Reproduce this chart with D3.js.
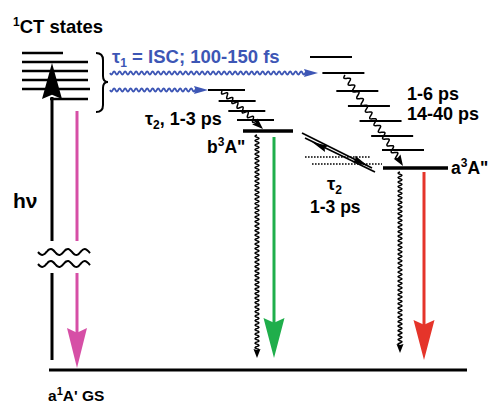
<!DOCTYPE html>
<html>
<head>
<meta charset="utf-8">
<script src="https://cdn.jsdelivr.net/npm/d3@7"></script>
<style>
  body { margin: 0; background: #fff; }
  text { font-family: "Liberation Sans", Arial, sans-serif; font-weight: bold; }
</style>
</head>
<body>
<svg id="chart" width="490" height="403"></svg>
<script>
// energies are heights above the ground state, in picture units
var groundEnergy = 0;
var ctEnergies = [317, 308, 299, 290, 281, 271];
var ctStarts = [22, 22, 22, 22, 22, 50];
var ctEnds = [63, 88, 88, 88, 90, 88];
var bLadder = [280, 269, 259, 250];
var bMain = 239;
var aLadder = [313, 297, 279, 264, 249, 234, 220];
var aMain = 202;
var crossingLevels = [213, 206];

var labels = {
    ct: "CT states",
    isc: " = ISC; 100-150 fs",
    tau2b: ", 1-3 ps",
    aTimes: ["1-6 ps", "14-40 ps"],
    tau2x: "1-3 ps",
    gs: "A' GS"
};

var svg = d3.select("#chart");
var y = d3.scaleLinear().domain([0, 317]).range([370, 53]);
// ladders slant: left edge follows the energy
var bX = d3.scaleLinear().domain([280, 250]).range([208, 237]);
var aX = d3.scaleLinear().domain([313, 220]).range([310, 382]);

var blue = "#3d56b5", pink = "#d64fa6", green = "#1fae4b", red = "#e5342a";

function wavePath(x0, y0, x1, y1, amp, wl) {
    let dx = x1 - x0, dy = y1 - y0;
    let len = Math.sqrt(dx * dx + dy * dy);
    let ux = dx / len, uy = dy / len;
    let pts = [];
    let n = Math.round(len / wl * 8);
    for (let i = 0; i <= n; i++) {
        let t = i / n * len;
        let o = amp * Math.sin(t / wl * 2 * Math.PI);
        pts.push([x0 + ux * t - uy * o, y0 + uy * t + ux * o]);
    }
    return d3.line().curve(d3.curveCatmullRom)(pts);
}

function arrowHead(tx, ty, fx, fy, len, hw, color) {
    let dx = tx - fx, dy = ty - fy;
    let d = Math.sqrt(dx * dx + dy * dy);
    let ux = dx / d, uy = dy / d;
    let bx = tx - ux * len, by = ty - uy * len;
    let notch = len * 0.12;
    svg.append("path")
        .attr("d", "M" + tx + "," + ty +
            "L" + (bx - uy * hw) + "," + (by + ux * hw) +
            "L" + (bx + ux * notch) + "," + (by + uy * notch) +
            "L" + (bx + uy * hw) + "," + (by - ux * hw) + "Z")
        .attr("fill", color);
}

function level(x0, x1, e, w) {
    svg.append("line")
        .attr("x1", x0).attr("x2", x1)
        .attr("y1", y(e)).attr("y2", y(e))
        .attr("stroke", "#000").attr("stroke-width", w);
}

// ground state
level(49, 467, groundEnergy, 3.2);

// CT manifold
ctEnergies.forEach(function (e, i) { level(ctStarts[i], ctEnds[i], e, 2.4); });

// b3A'' ladder
bLadder.forEach(function (e) { level(bX(e), bX(e) + 37, e, 2); });
level(243, 293, bMain, 3.6);

// a3A'' ladder
aLadder.forEach(function (e) { level(aX(e), aX(e) + 42, e, 2); });
level(383, 448, aMain, 3.6);

// hv excitation with break
svg.append("line").attr("x1", 52).attr("x2", 52).attr("y1", y(ctEnergies[5]) - 2).attr("y2", 241)
    .attr("stroke", "#000").attr("stroke-width", 3);
svg.append("line").attr("x1", 52).attr("x2", 52).attr("y1", 273).attr("y2", 360)
    .attr("stroke", "#000").attr("stroke-width", 3);
arrowHead(52, 63, 52, 100, 36, 10, "#000");

// pink emission from CT
svg.append("line").attr("x1", 77).attr("x2", 77).attr("y1", 111).attr("y2", 241)
    .attr("stroke", pink).attr("stroke-width", 3);
svg.append("line").attr("x1", 77).attr("x2", 77).attr("y1", 273).attr("y2", 335)
    .attr("stroke", pink).attr("stroke-width", 3);
arrowHead(77, y(groundEnergy) - 2, 77, 300, 40, 10, pink);

// axis break squiggles
[252, 264].forEach(function (yy) {
    svg.append("path").attr("d", wavePath(38, yy, 90, yy, 3, 17))
        .attr("fill", "none").attr("stroke", "#000").attr("stroke-width", 2);
});

// brace
svg.append("path")
    .attr("d", "M96,53 Q103,53 103,60 L103,76 Q103,82 108,82 Q103,82 103,88 L103,105 Q103,112 96,112")
    .attr("fill", "none").attr("stroke", "#000").attr("stroke-width", 2);

// ISC wavy arrows
svg.append("path").attr("d", wavePath(110, 73, 306, 73, 1.6, 5.5))
    .attr("fill", "none").attr("stroke", blue).attr("stroke-width", 1.8);
arrowHead(318, 73, 300, 73, 14, 4, blue);
svg.append("path").attr("d", wavePath(110, 90, 196, 90, 1.6, 5.5))
    .attr("fill", "none").attr("stroke", blue).attr("stroke-width", 1.8);
arrowHead(208, 90, 190, 90, 14, 4, blue);

// vibrational relaxation down the ladders
svg.append("path").attr("d", wavePath(222, 91, 257, 123, 2.4, 7))
    .attr("fill", "none").attr("stroke", "#000").attr("stroke-width", 1.5);
arrowHead(263, 129, 222, 91, 11, 4, "#000");
svg.append("path").attr("d", wavePath(345, 75, 398, 158, 2.6, 8))
    .attr("fill", "none").attr("stroke", "#000").attr("stroke-width", 1.5);
arrowHead(403, 166, 345, 75, 11, 4, "#000");

// nonradiative decay to ground
svg.append("path").attr("d", wavePath(257, 135, 257, 350, 2, 4.5))
    .attr("fill", "none").attr("stroke", "#000").attr("stroke-width", 1.4);
arrowHead(257, 358, 257, 340, 9, 3.5, "#000");
svg.append("path").attr("d", wavePath(400, 172, 400, 345, 2, 4.5))
    .attr("fill", "none").attr("stroke", "#000").attr("stroke-width", 1.4);
arrowHead(400, 353, 400, 340, 9, 3.5, "#000");

// phosphorescence
svg.append("line").attr("x1", 274).attr("x2", 274).attr("y1", 137).attr("y2", 325)
    .attr("stroke", green).attr("stroke-width", 3);
arrowHead(274, 358, 274, 320, 40, 10.5, green);
svg.append("line").attr("x1", 424).attr("x2", 424).attr("y1", 172).attr("y2", 325)
    .attr("stroke", red).attr("stroke-width", 3);
arrowHead(424, 360, 424, 320, 40, 10.5, red);

// b <-> a equilibrium
crossingLevels.forEach(function (e, i) {
    svg.append("line")
        .attr("x1", i === 0 ? 305 : 312).attr("x2", i === 0 ? 370 : 382)
        .attr("y1", y(e)).attr("y2", y(e))
        .attr("stroke", "#000").attr("stroke-width", 1.6)
        .attr("stroke-dasharray", "1.6,1.4");
});
svg.append("line").attr("x1", 302).attr("y1", 133).attr("x2", 372).attr("y2", 168)
    .attr("stroke", "#000").attr("stroke-width", 1.8);
arrowHead(368, 166, 302, 133, 16, 3.5, "#000");
svg.append("line").attr("x1", 375).attr("y1", 172).attr("x2", 305).attr("y2", 138)
    .attr("stroke", "#000").attr("stroke-width", 1.8);
arrowHead(312, 142, 375, 172, 16, 3.5, "#000");

// labels
function label(x, yy, size, color) {
    return svg.append("text").attr("x", x).attr("y", yy)
        .attr("font-size", size).attr("fill", color || "#000");
}
var t = label(13, 33, 18.5);
t.append("tspan").attr("font-size", 12).attr("dy", -7).text("1");
t.append("tspan").attr("dy", 7).text(labels.ct);

t = label(112, 63, 18.5, blue);
t.append("tspan").text("\u03c4");
t.append("tspan").attr("font-size", 12).attr("dy", 4).text("1");
t.append("tspan").attr("dy", -4).text(labels.isc);

t = label(145, 125, 18);
t.append("tspan").text("\u03c4");
t.append("tspan").attr("font-size", 12).attr("dy", 4).text("2");
t.append("tspan").attr("dy", -4).text(labels.tau2b);

t = label(207, 153, 17.5);
t.append("tspan").text("b");
t.append("tspan").attr("font-size", 12).attr("dy", -7).text("3");
t.append("tspan").attr("dy", 7).text("A\"");

t = label(451, 174, 17.5);
t.append("tspan").text("a");
t.append("tspan").attr("font-size", 12).attr("dy", -7).text("3");
t.append("tspan").attr("dy", 7).text("A\"");

label(407, 100, 18).text(labels.aTimes[0]);
label(407, 120, 18).text(labels.aTimes[1]);

t = label(327, 190, 18.5);
t.append("tspan").text("\u03c4");
t.append("tspan").attr("font-size", 12).attr("dy", 4).text("2");
label(310, 213, 17.5).text(labels.tau2x);

t = label(13, 208, 21);
t.append("tspan").text("h\u03bd");

t = label(48, 401, 15.5);
t.append("tspan").text("a");
t.append("tspan").attr("font-size", 11).attr("dy", -6).text("1");
t.append("tspan").attr("dy", 6).text(labels.gs);
</script>
</body>
</html>
